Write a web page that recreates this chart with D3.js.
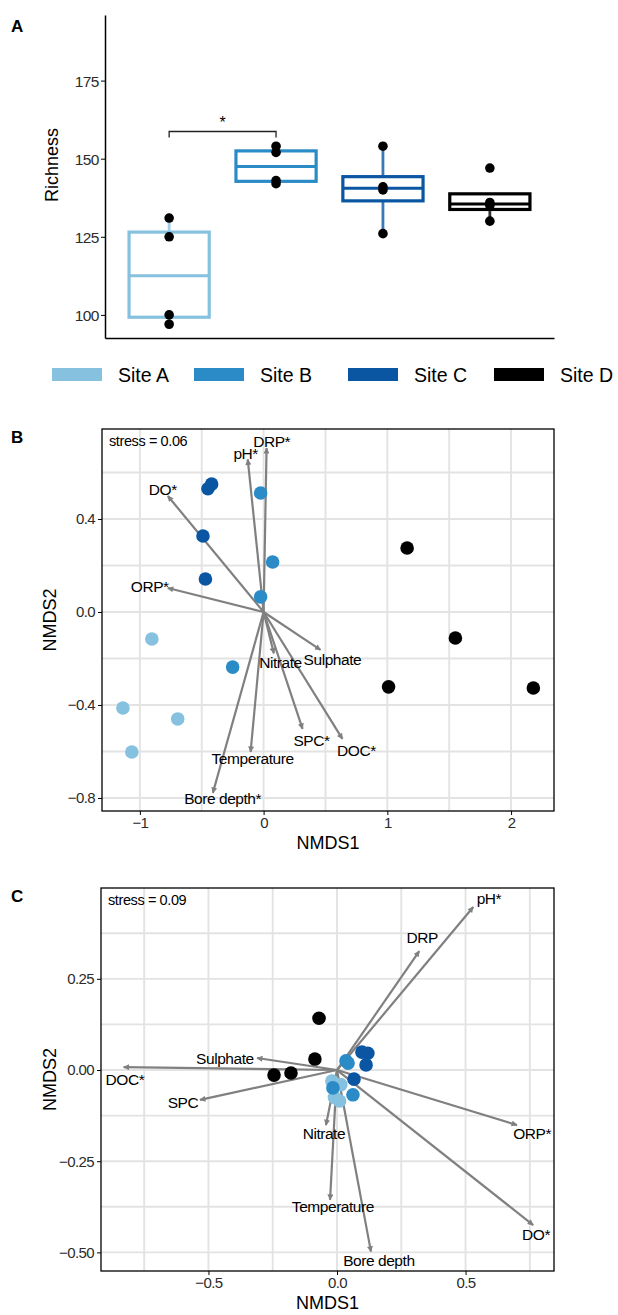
<!DOCTYPE html>
<html lang="en">
<head>
<meta charset="utf-8">
<title>Richness and NMDS</title>
<script src="https://d3js.org/d3.v7.min.js" charset="utf-8"></script>
<style type="text/css">
  body { margin: 0; background: #fff; }
  svg { font-family: "Liberation Sans", Arial, sans-serif; }
  .tick text { fill: #2b2b2b; }
  .grid line { stroke: #e3e3e3; stroke-width: 1.9; }
</style>
</head>
<body>
<script type="text/javascript">

// ---- data ----
const sites = ["Site A", "Site B", "Site C", "Site D"]
const siteColors = ["#86c1df", "#2a8bc7", "#0a56a3", "#000000"]

// richness per site (panel A)
const richness = [
  [97, 100, 125, 131],
  [142, 143, 152, 154],
  [126, 140, 141, 154],
  [130, 135, 136, 147]
]
const richTicks = [100, 125, 150, 175]

// panel B: NMDS scores (site index, axis 1, axis 2)
const siteB = [0, 0, 0, 0, 1, 1, 1, 1, 2, 2, 2, 2, 3, 3, 3, 3]
const nmds1B = [-0.903, -1.137, -0.694, -1.065, -0.024, 0.073, -0.024, -0.25, -0.45, -0.42, -0.49, -0.47, 1.16, 1.55, 1.01, 2.18]
const nmds2B = [-0.116, -0.413, -0.46, -0.602, 0.512, 0.215, 0.065, -0.237, 0.53, 0.55, 0.327, 0.142, 0.275, -0.112, -0.322, -0.327]
const envB = ["DRP*", "pH*", "DO*", "ORP*", "Sulphate", "Nitrate", "SPC*", "DOC*", "Temperature", "Bore depth*"]
const arr1B = [0.024, -0.128, -0.774, -0.774, 0.46, 0.083, 0.315, 0.637, -0.105, -0.41]
const arr2B = [0.705, 0.656, 0.499, 0.103, -0.163, -0.178, -0.503, -0.546, -0.602, -0.778]
const lab1B = [0.065, -0.145, -0.815, -0.92, 0.556, 0.137, 0.387, 0.75, -0.089, -0.331]
const lab2B = [0.735, 0.684, 0.529, 0.108, -0.202, -0.215, -0.551, -0.594, -0.628, -0.804]
const xTicksB = [-1, 0, 1, 2], xMinorB = [-0.5, 0.5, 1.5]
const yTicksB = [-0.8, -0.4, 0, 0.4], yMinorB = [-0.6, -0.2, 0.2, 0.6]

// panel C
const siteC = [0, 0, 0, 0, 1, 1, 1, 1, 2, 2, 2, 2, 3, 3, 3, 3]
const nmds1C = [-0.02, 0.015, -0.01, 0.01, 0.035, 0.043, -0.016, 0.062, 0.097, 0.12, 0.113, 0.066, -0.07, -0.086, -0.245, -0.179]
const nmds2C = [-0.03, -0.04, -0.075, -0.085, 0.025, 0.019, -0.049, -0.068, 0.049, 0.046, 0.014, -0.025, 0.142, 0.03, -0.014, -0.008]
const envC = ["pH*", "DRP", "ORP*", "DO*", "Bore depth", "Temperature", "Nitrate", "SPC", "DOC*", "Sulphate"]
const arr1C = [0.53, 0.32, 0.70, 0.763, 0.132, -0.027, -0.043, -0.533, -0.83, -0.311]
const arr2C = [0.447, 0.326, -0.151, -0.425, -0.498, -0.356, -0.151, -0.082, 0.008, 0.033]
const lab1C = [0.591, 0.331, 0.759, 0.774, 0.163, -0.016, -0.051, -0.599, -0.825, -0.436]
const lab2C = [0.471, 0.364, -0.173, -0.452, -0.523, -0.375, -0.175, -0.088, -0.027, 0.033]
const xTicksC = [-0.5, 0, 0.5], xMinorC = [-0.75, -0.25, 0.25, 0.75]
const yTicksC = [-0.5, -0.25, 0, 0.25], yMinorC = [-0.375, -0.125, 0.125, 0.375]

const svg = d3.select("body").append("svg")
  .attr("width", 618)
  .attr("height", 1315)

svg.append("defs").append("marker")
  .attr("id", "head")
  .attr("viewBox", "0 0 10 10")
  .attr("refX", 9).attr("refY", 5)
  .attr("markerUnits", "userSpaceOnUse")
  .attr("markerWidth", 7).attr("markerHeight", 6)
  .attr("orient", "auto")
  .append("path").attr("d", "M0,0L10,5L0,10z").attr("fill", "#808080")

// ---------------- panel A ----------------
const xA = d3.scaleLinear().domain([0.4, 4.6]).range([105, 554])
const yA = d3.scaleLinear().domain([92.6, 196]).range([338, 15])
const boxW = 0.75 * (xA(2) - xA(1))

svg.append("text").attr("x", 11).attr("y", 32).text("A")
  .style("font-weight", "bold").style("font-size", "17px")

svg.append("g").attr("transform", "translate(105,0)")
  .call(d3.axisLeft(yA).tickValues(richTicks).tickSize(4).tickSizeOuter(0).tickPadding(2))
  .call(g => g.select(".domain").attr("stroke-width", 1.5))
  .call(g => g.selectAll(".tick text").style("font-size", "15.5px").style("letter-spacing", "-0.5px").attr("dy", "0.36em"))
svg.append("g").attr("transform", "translate(0,338)")
  .call(d3.axisBottom(xA).tickValues([]).tickSizeOuter(0))
  .call(g => g.select(".domain").attr("stroke-width", 1.5))

svg.append("text")
  .attr("transform", "translate(58,165) rotate(-90)")
  .attr("text-anchor", "middle")
  .style("font-size", "18px")
  .text("Richness")

richness.forEach((vals, i) => {
  const v = vals.slice().sort(d3.ascending)
  const q1 = d3.quantile(v, 0.25), med = d3.quantile(v, 0.5), q3 = d3.quantile(v, 0.75)
  const iqr = q3 - q1
  const hi = d3.max(v.filter(d => d <= q3 + 1.5 * iqr))
  const lo = d3.min(v.filter(d => d >= q1 - 1.5 * iqr))
  const cx = xA(i + 1)
  const g = svg.append("g")
  g.append("line").attr("x1", cx).attr("x2", cx).attr("y1", yA(q3)).attr("y2", yA(Math.max(hi, q3)))
    .attr("stroke", siteColors[i]).attr("stroke-width", 2.8).attr("stroke-opacity", 0.8)
  g.append("line").attr("x1", cx).attr("x2", cx).attr("y1", yA(q1)).attr("y2", yA(Math.min(lo, q1)))
    .attr("stroke", siteColors[i]).attr("stroke-width", 2.8).attr("stroke-opacity", 0.8)
  g.append("rect").attr("x", cx - boxW / 2).attr("width", boxW)
    .attr("y", yA(q3)).attr("height", yA(q1) - yA(q3))
    .attr("fill", "#fff").attr("stroke", siteColors[i]).attr("stroke-width", 3.2)
  g.append("line").attr("x1", cx - boxW / 2).attr("x2", cx + boxW / 2)
    .attr("y1", yA(med)).attr("y2", yA(med))
    .attr("stroke", siteColors[i]).attr("stroke-width", 3)
  g.selectAll("circle").data(vals).enter().append("circle")
    .attr("cx", cx).attr("cy", d => yA(d)).attr("r", 4.8).attr("fill", "#000")
})

// significance bracket A vs B
const brY = yA(158.7)
svg.append("path")
  .attr("d", `M${xA(1)},${brY + 6}V${brY}H${xA(2)}V${brY + 6}`)
  .attr("fill", "none").attr("stroke", "#222").attr("stroke-width", 1.3)
svg.append("text").attr("x", (xA(1) + xA(2)) / 2).attr("y", brY - 4)
  .attr("text-anchor", "middle").style("font-size", "16px").text("*")

// legend
const legX = [52, 194, 348, 494]
sites.forEach((s, i) => {
  svg.append("rect").attr("x", legX[i]).attr("y", 368).attr("width", 50).attr("height", 13)
    .attr("fill", siteColors[i])
  svg.append("text").attr("x", legX[i] + 66).attr("y", 382)
    .style("font-size", "19.5px").text(s)
})

// ---------------- NMDS panels ----------------
function nmdsPanel(o) {
  const x = d3.scaleLinear().domain(o.xDom).range([o.left, o.right])
  const y = d3.scaleLinear().domain(o.yDom).range([o.bottom, o.top])

  svg.append("text").attr("x", 11).attr("y", o.top + 14).text(o.tag)
    .style("font-weight", "bold").style("font-size", "17px")

  const grid = svg.append("g").attr("class", "grid")
  grid.selectAll(".vx").data(o.xMinor.concat(o.xTicks)).enter().append("line")
    .attr("x1", d => x(d)).attr("x2", d => x(d)).attr("y1", o.top).attr("y2", o.bottom)
  grid.selectAll(".hy").data(o.yMinor.concat(o.yTicks)).enter().append("line")
    .attr("y1", d => y(d)).attr("y2", d => y(d)).attr("x1", o.left).attr("x2", o.right)

  // arrows
  svg.append("g").selectAll("line").data(o.env).enter().append("line")
    .attr("x1", x(0)).attr("y1", y(0))
    .attr("x2", (d, i) => x(o.a1[i])).attr("y2", (d, i) => y(o.a2[i]))
    .attr("stroke", "#808080").attr("stroke-width", 2.2)
    .attr("marker-end", "url(#head)")

  // site points
  svg.append("g").selectAll("circle").data(o.site).enter().append("circle")
    .attr("cx", (d, i) => x(o.n1[i])).attr("cy", (d, i) => y(o.n2[i]))
    .attr("r", 6.8).attr("fill", d => siteColors[d])

  // arrow labels
  svg.append("g").selectAll("text").data(o.env).enter().append("text")
    .attr("x", (d, i) => x(o.l1[i])).attr("y", (d, i) => y(o.l2[i]))
    .attr("dy", "0.36em").attr("text-anchor", "middle")
    .style("font-size", "15.5px").style("letter-spacing", "-0.45px")
    .text(d => d)

  svg.append("text").attr("x", o.left + 7).attr("y", o.top + 17)
    .style("font-size", "14.5px").style("letter-spacing", "-0.4px").text(o.stress)

  svg.append("rect").attr("x", o.left).attr("y", o.top)
    .attr("width", o.right - o.left).attr("height", o.bottom - o.top)
    .attr("fill", "none").attr("stroke", "#000").attr("stroke-width", 1.3)

  svg.append("g").attr("transform", `translate(${o.left},0)`)
    .call(d3.axisLeft(y).tickValues(o.yTicks).tickFormat(o.yFmt).tickSize(4).tickSizeOuter(0).tickPadding(3))
    .call(g => g.select(".domain").remove())
    .call(g => g.selectAll(".tick text").style("font-size", "15px").style("letter-spacing", "-0.6px"))
  svg.append("g").attr("transform", `translate(0,${o.bottom})`)
    .call(d3.axisBottom(x).tickValues(o.xTicks).tickFormat(o.xFmt).tickSize(4).tickSizeOuter(0).tickPadding(2))
    .call(g => g.select(".domain").remove())
    .call(g => g.selectAll(".tick text").style("font-size", "15px").style("letter-spacing", "-0.6px"))

  svg.append("text").attr("x", (o.left + o.right) / 2).attr("y", o.bottom + 38)
    .attr("text-anchor", "middle").style("font-size", "18px").text("NMDS1")
  svg.append("text")
    .attr("transform", `translate(56,${(o.top + o.bottom) / 2}) rotate(-90)`)
    .attr("text-anchor", "middle").style("font-size", "18px").text("NMDS2")
}

nmdsPanel({
  tag: "B", stress: "stress = 0.06",
  left: 102, right: 554, top: 429, bottom: 811,
  xDom: [-1.306, 2.347], yDom: [-0.856, 0.787],
  xTicks: xTicksB, xMinor: xMinorB, yTicks: yTicksB, yMinor: yMinorB,
  xFmt: d3.format("d"), yFmt: d3.format(".1f"),
  site: siteB, n1: nmds1B, n2: nmds2B,
  env: envB, a1: arr1B, a2: arr2B, l1: lab1B, l2: lab2B
})

nmdsPanel({
  tag: "C", stress: "stress = 0.09",
  left: 101, right: 554, top: 888, bottom: 1271,
  xDom: [-0.918, 0.844], yDom: [-0.551, 0.499],
  xTicks: xTicksC, xMinor: xMinorC, yTicks: yTicksC, yMinor: yMinorC,
  xFmt: d3.format(".1f"), yFmt: d3.format(".2f"),
  site: siteC, n1: nmds1C, n2: nmds2C,
  env: envC, a1: arr1C, a2: arr2C, l1: lab1C, l2: lab2C
})

</script>
</body>
</html>
